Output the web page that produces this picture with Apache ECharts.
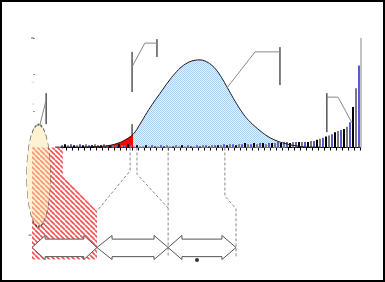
<!DOCTYPE html>
<html><head><meta charset="utf-8">
<script src="https://cdn.jsdelivr.net/npm/echarts@6/dist/echarts.min.js"></script>
<style>html,body{margin:0;padding:0;background:#fff}#c{width:385px;height:282px}</style>
</head><body><div id="c"></div>
<script>
// ---- bell curve (x: 0..100 scale, y: axis units) ----
const curveX = [6.71, 12.80, 17.38, 20.43, 22.87, 25.30, 27.74, 30.49, 32.62, 34.76, 36.89, 39.02, 41.16, 43.29, 45.43, 47.56, 49.39, 50.91, 52.44, 54.27, 56.10, 57.93, 59.76, 61.59, 63.41, 65.24, 67.38, 69.51, 71.65, 74.09, 76.83, 79.88, 83.84, 87.50];
const curveY = [0.01, 0.01, 0.02, 0.03, 0.05, 0.10, 0.19, 0.36, 0.64, 0.96, 1.25, 1.52, 1.79, 2.03, 2.22, 2.34, 2.39, 2.40, 2.37, 2.27, 2.10, 1.85, 1.56, 1.27, 1.01, 0.79, 0.60, 0.44, 0.30, 0.19, 0.11, 0.05, 0.01, 0.01];
const redFrom = 3, redTo = 7, blueFrom = 7, blueTo = 31;

// ---- small bars along the baseline ----
const barValues = [
  2,3,2,3,2,2,3,2,3,2,2,3,2,2,3,2,2,3,2,3,2,2,3,
  2,1,2,1,1,2,1,2,1,1,2,1,2,1,1,2,1,2,1,2,1,1,2,1,2,2,1,2,2,2,
  2,3,2,3,3,2,3,3,4,3,3,4,3,4,4,3,4,4,4,
  5,4,5,5,4,5,5,5,5,5,5,
  6,6,7,8,9,10,11,12,14,15,16,17,19,23,37,54,75
];
const barCats = barValues.map((_, i) => String(i + 1));

// ---- annotation geometry (axis units) ----
const hatchPoly = [[-0.3,0],[9.1,0],[9.1,-0.78],[19.5,-1.74],[19.5,-3.07],[-0.3,-3.07]];
const ellipseCenter = [[1.7,-0.77]];
const dashedLines = [
  [[29.6,0],[29.6,-0.64],[19.5,-1.74]],
  [[31.7,0],[31.7,-0.73],[41.2,-1.66]],
  [[41.2,0],[41.2,-3.01]],
  [[58.5,0],[58.5,-1.33],[61.9,-1.68],[61.9,-3.01]]
];
const blackLines = [
  [[4.0,1.49],[4.0,0.64]],
  [[30.2,2.62],[30.2,1.52]],
  [[37.8,2.97],[37.8,2.48]],
  [[75.3,2.75],[75.3,1.71]],
  [[89.6,1.49],[89.6,0.42]],
  [[30.2,0.64],[30.2,0.34]]
];
const greyLines = [
  [[2.1,0.62],[4.0,1.30]],
  [[30.2,2.21],[34.1,2.86],[37.8,2.86]],
  [[59.1,1.63],[67.7,2.62],[75.3,2.62]],
  [[89.6,1.38],[93.0,1.38],[97.3,0.67]],
  [[100,3],[100,0]]
];
const arrowSpans = [[-0.3,3.7,15.5,19.5],[19.5,24.1,36.9,41.2],[41.2,45.4,57.6,61.9]];
const arrowLevels = {tip:-2.74, headTop:-2.41, shaftTop:-2.51, shaftBot:-2.99, headBot:-3.07};
const bottomAxis = [[-0.6,-3.08],[99.4,-3.08]];
const bottomDot = [[50,-3.08]];
const darkMarks = [[-0.15,3.0],[-0.9,-2.40]];
const lightMarks = [[0,1.79],[0,1.19]];

function makeHatch(){
  const s = 5, c = document.createElement('canvas');
  c.width = s; c.height = s;
  const g = c.getContext('2d');
  g.fillStyle = '#fff'; g.fillRect(0,0,s,s);
  g.strokeStyle = '#f25555'; g.lineWidth = 1.7;
  for (const k of [-s, 0, s]) { g.beginPath(); g.moveTo(k,0); g.lineTo(k+s,s); g.stroke(); }
  return c;
}
function makeDots(){
  const c = document.createElement('canvas');
  c.width = 2; c.height = 2;
  const g = c.getContext('2d');
  g.fillStyle = '#e4f1fd'; g.fillRect(0,0,2,2);
  g.fillStyle = '#a9d1f6'; g.fillRect(0,0,1,1); g.fillRect(1,1,1,1);
  return c;
}
const hatch = {image: makeHatch(), repeat: 'repeat'};
const dots = {image: makeDots(), repeat: 'repeat'};

function arrowPoly(sp){
  const [a, ha, hb, b] = sp, L = arrowLevels;
  return [[a,L.tip],[ha,L.headTop],[ha,L.shaftTop],[hb,L.shaftTop],[hb,L.headTop],[b,L.tip],
          [hb,L.headBot],[hb,L.shaftBot],[ha,L.shaftBot],[ha,L.headBot]];
}
function shapeSeries(shapes, type, style, z){
  return {
    type: 'custom', xAxisIndex: 0, yAxisIndex: 0, clip: false, silent: true, z: z,
    data: shapes.map((_, i) => [i, 0]),
    renderItem: (params, api) => ({
      type: type,
      shape: {points: shapes[params.dataIndex].map(p => api.coord(p))},
      style: style
    })
  };
}
const pts = (a, b) => curveX.slice(a, b + 1).map((x, i) => [x, curveY[a + i]]);

const chart = echarts.init(document.getElementById('c'), null, {renderer: 'canvas'});
chart.setOption({
  animation: false,
  backgroundColor: '#fff',
  graphic: [{type: 'rect', shape: {x: 1, y: 1, width: 383, height: 280}, style: {fill: 'none', stroke: '#000', lineWidth: 2}, z: 100}],
  grid: [
    {left: 33, right: 24, top: 38, bottom: 25},
    {left: 60.5, right: 24.5, top: 38, bottom: 25}
  ],
  xAxis: [
    {gridIndex: 0, type: 'value', min: 0, max: 100, show: false},
    {gridIndex: 1, type: 'category', data: barCats,
     axisLine: {onZero: true, lineStyle: {color: '#000', width: 1}},
     axisTick: {show: true, interval: 1, length: 3, inside: false, lineStyle: {color: '#000'}},
     axisLabel: {show: false}, splitLine: {show: false}}
  ],
  yAxis: [
    {gridIndex: 0, type: 'value', min: -3, max: 3, interval: 1, position: 'right',
     axisLine: {show: false}, axisTick: {show: true, length: 2, lineStyle: {color: '#999'}},
     axisLabel: {show: false}, splitLine: {show: false}},
    {gridIndex: 1, type: 'value', min: -100, max: 100, show: false}
  ],
  series: [
    {type: 'line', xAxisIndex: 0, yAxisIndex: 0, data: pts(redFrom, redTo), smooth: 0.4, symbol: 'none',
     lineStyle: {width: 0}, areaStyle: {color: '#ff0000', opacity: 1}, z: 1, silent: true},
    {type: 'line', xAxisIndex: 0, yAxisIndex: 0, data: pts(blueFrom, blueTo), smooth: 0.4, symbol: 'none',
     lineStyle: {width: 0}, areaStyle: {color: dots, opacity: 1}, z: 1, silent: true},
    shapeSeries([hatchPoly], 'polygon', {fill: hatch, stroke: 'none'}, 2),
    {type: 'bar', xAxisIndex: 1, yAxisIndex: 1, data: barValues, barWidth: 2, z: 3, silent: true,
     itemStyle: {color: p => ['#5b5bd0', '#000000', '#7a7a7a'][p.dataIndex % 3]}},
    {type: 'line', xAxisIndex: 0, yAxisIndex: 0, data: pts(0, curveX.length - 1), smooth: 0.4, symbol: 'none',
     clip: false, lineStyle: {color: '#1a1a1a', width: 1}, z: 4, silent: true,
     markLine: {silent: true, symbol: ['arrow', 'arrow'], symbolSize: [5, 7], label: {show: false},
       lineStyle: {color: '#000', type: 'solid', width: 1},
       data: [[{coord: bottomAxis[0]}, {coord: bottomAxis[1]}]]}},
    {type: 'scatter', xAxisIndex: 0, yAxisIndex: 0, data: ellipseCenter, clip: false, silent: true, z: 5,
     symbol: 'circle', symbolSize: [24, 102],
     itemStyle: {color: 'rgba(252,228,160,0.6)', borderColor: '#333', borderWidth: 1, borderType: 'dashed'}},
    shapeSeries(dashedLines, 'polyline', {fill: 'none', stroke: '#888', lineWidth: 1, lineDash: [3, 2]}, 5),
    shapeSeries(blackLines, 'polyline', {fill: 'none', stroke: '#000', lineWidth: 1}, 6),
    shapeSeries(greyLines, 'polyline', {fill: 'none', stroke: '#888', lineWidth: 1}, 6),
    shapeSeries(arrowSpans.map(arrowPoly), 'polygon', {fill: '#fff', stroke: 'none'}, 7),
    shapeSeries(arrowSpans.map(arrowPoly), 'polygon', {fill: 'none', stroke: '#555', lineWidth: 1}, 8),
    {type: 'scatter', xAxisIndex: 0, yAxisIndex: 0, data: bottomDot, clip: false, silent: true, z: 9,
     symbolSize: 4, itemStyle: {color: '#000'}},
    {type: 'scatter', xAxisIndex: 0, yAxisIndex: 0, data: darkMarks, clip: false, silent: true, z: 9,
     symbol: 'rect', symbolSize: [3, 1], itemStyle: {color: '#444'}},
    {type: 'scatter', xAxisIndex: 0, yAxisIndex: 0, data: lightMarks, clip: false, silent: true, z: 9,
     symbol: 'rect', symbolSize: [3, 1], itemStyle: {color: '#ccc'}}
  ]
});
</script></body></html>
